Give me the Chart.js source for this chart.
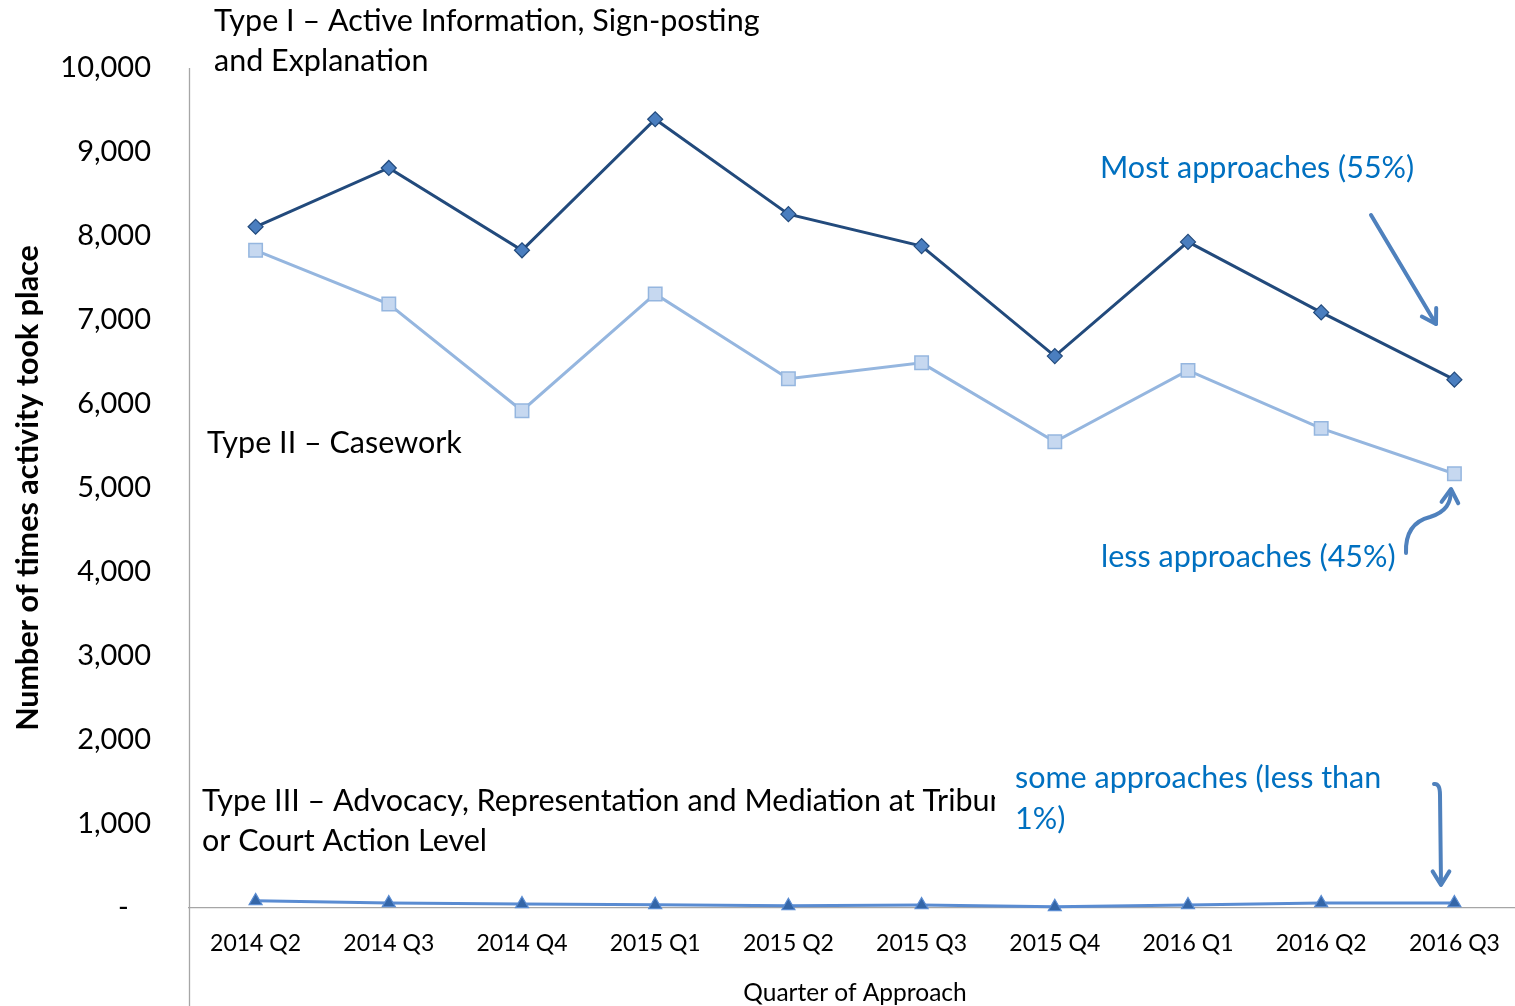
<!DOCTYPE html>
<html lang="en">
<head>
<meta charset="UTF-8" />
<title>Approaches by quarter</title>
<script src="https://cdn.jsdelivr.net/npm/chart.js"></script>
<style>
  html, body { margin: 0; padding: 0; background: #fff; overflow: hidden; }
  #wrap { width: 1515px; height: 1006px; position: relative; overflow: hidden; }
</style>
</head>
<body>
<div id="wrap"><canvas id="chart" width="1532" height="1006"></canvas></div>
<script>
const quarters = ['2014 Q2', '2014 Q3', '2014 Q4', '2015 Q1', '2015 Q2', '2015 Q3', '2015 Q4', '2016 Q1', '2016 Q2', '2016 Q3'];
const typeI   = [8110, 8810, 7830, 9390, 8260, 7880, 6570, 7930, 7090, 6290];
const typeII  = [7830, 7190, 5920, 7310, 6300, 6490, 5550, 6400, 5710, 5170];
const typeIII = [85, 60, 48, 38, 26, 36, 14, 36, 60, 60];
const yMin = 0, yMax = 10000, yStep = 1000;

const FONT = 'Lato, "Open Sans", sans-serif';
const BLUE_TXT = '#0070c0';
const ARROW = '#4f81bd';

// notes drawn on top of the plot
const notes = {
  id: 'notes',
  afterDraw(chart) {
    const ctx = chart.ctx;
    const a = chart.chartArea;
    ctx.save();
    // vertical axis line runs past the x axis to the bottom
    ctx.strokeStyle = '#a6a6a6';
    ctx.lineWidth = 1.3;
    ctx.beginPath();
    ctx.moveTo(a.left + 0.5, a.top);
    ctx.lineTo(a.left + 0.5, chart.height);
    ctx.stroke();

    ctx.textBaseline = 'middle';
    ctx.textAlign = 'left';
    ctx.fillStyle = '#000';
    ctx.font = '30.5px ' + FONT;
    ctx.fillText('Type I \u2013 Active Information, Sign-posting', 214, 21);
    ctx.fillText('and Explanation', 214, 61);
    ctx.fillText('Type II \u2013 Casework', 207, 443);
    ctx.save();
    ctx.beginPath();
    ctx.rect(190, 770, 805, 60);
    ctx.clip();
    ctx.fillText('Type III \u2013 Advocacy, Representation and Mediation at Tribunal', 202, 801);
    ctx.restore();
    ctx.fillText('or Court Action Level', 202, 841);

    ctx.fillStyle = BLUE_TXT;
    ctx.fillText('Most approaches (55%)', 1100, 168);
    ctx.fillText('less approaches (45%)', 1101, 557);
    ctx.fillText('some approaches (less than', 1015, 778);
    ctx.fillText('1%)', 1015, 819);

    // axis titles
    ctx.fillStyle = '#000';
    ctx.textAlign = 'center';
    ctx.font = '24.5px ' + FONT;
    ctx.fillText('Quarter of Approach', 855, 993);
    ctx.save();
    ctx.translate(28, 488);
    ctx.rotate(-Math.PI / 2);
    ctx.font = 'bold 30.5px ' + FONT;
    ctx.fillText('Number of times activity took place', 0, 0);
    ctx.restore();

    // arrows
    ctx.strokeStyle = ARROW;
    ctx.lineWidth = 4;
    ctx.lineCap = 'round';
    ctx.lineJoin = 'round';
    const head = (x, y, ang) => {
      const L = 16, s = 0.55;
      ctx.beginPath();
      ctx.moveTo(x - L * Math.cos(ang - s), y - L * Math.sin(ang - s));
      ctx.lineTo(x, y);
      ctx.lineTo(x - L * Math.cos(ang + s), y - L * Math.sin(ang + s));
      ctx.stroke();
    };
    ctx.beginPath();
    ctx.moveTo(1371, 215);
    ctx.lineTo(1436, 324);
    ctx.stroke();
    head(1436, 324, Math.atan2(109, 65));

    ctx.beginPath();
    ctx.moveTo(1406, 553);
    ctx.bezierCurveTo(1405, 528, 1418, 520, 1430, 517);
    ctx.bezierCurveTo(1446, 512, 1451, 503, 1451, 490);
    ctx.stroke();
    head(1451, 489, -Math.PI / 2 + 0.08);

    ctx.beginPath();
    ctx.moveTo(1434, 784);
    ctx.quadraticCurveTo(1440, 783, 1440, 795);
    ctx.lineTo(1441, 884);
    ctx.stroke();
    head(1441, 885, Math.PI / 2);
    ctx.restore();
  }
};

new Chart(document.getElementById('chart'), {
  type: 'line',
  data: {
    labels: quarters,
    datasets: [
      {
        label: 'Type I',
        data: typeI,
        borderColor: '#224a7c',
        borderWidth: 3,
        pointStyle: 'rectRot',
        pointRadius: 7.5,
        pointBackgroundColor: '#4a7ebf',
        pointBorderColor: '#224a7c',
        pointBorderWidth: 1.2,
        tension: 0
      },
      {
        label: 'Type II',
        data: typeII,
        borderColor: '#95b6df',
        borderWidth: 3,
        pointStyle: 'rect',
        pointRadius: 9.5,
        pointBackgroundColor: '#c6d8f0',
        pointBorderColor: '#95b6df',
        pointBorderWidth: 1.5,
        tension: 0
      },
      {
        label: 'Type III',
        data: typeIII,
        borderColor: '#5a8cd2',
        borderWidth: 3,
        pointStyle: 'triangle',
        pointRadius: 7.5,
        pointBackgroundColor: '#3466a8',
        pointBorderColor: '#5a8cd2',
        pointBorderWidth: 1.2,
        tension: 0
      }
    ]
  },
  options: {
    responsive: false,
    animation: false,
    clip: false,
    layout: { padding: { top: 68, right: 0, left: 0, bottom: 0 } },
    plugins: { legend: { display: false }, tooltip: { enabled: false } },
    scales: {
      x: {
        offset: true,
        grid: { display: false, drawTicks: false },
        border: { display: true, color: '#a6a6a6', width: 1.3 },
        ticks: { color: '#000', font: { family: FONT, size: 23 }, padding: 22, maxRotation: 0 },
        afterFit(s) { s.height = 98; }
      },
      y: {
        min: yMin,
        max: yMax,
        grid: { display: false, drawTicks: false },
        border: { display: false },
        ticks: {
          stepSize: yStep,
          color: '#000',
          font: { family: FONT, size: 29 },
          padding: 38,
          callback: v => v === 0 ? '-   ' : v.toLocaleString('en-US')
        },
        afterFit(s) { s.width = 189; }
      }
    }
  },
  plugins: [notes]
});
</script>
</body>
</html>
